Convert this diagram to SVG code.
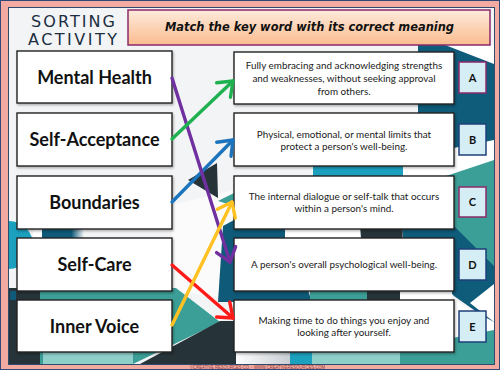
<svg xmlns="http://www.w3.org/2000/svg" width="500" height="370" viewBox="0 0 500 370">
<defs>
<style>
.term{fill:#fff;stroke:#222;stroke-width:1.4}
.defn{fill:#fff;stroke:#222;stroke-width:1.4}
.tt{font-family:Lato,"Open Sans","DejaVu Sans",sans-serif;font-weight:bold;font-size:18px;fill:#111;text-anchor:middle}
.dt{font-family:Lato,"Open Sans","DejaVu Sans",sans-serif;font-size:9.9px;fill:#1a1a1a;text-anchor:middle}
.lb{fill:#d5eef6;stroke-width:1.5}
.lt{font-family:Lato,"Open Sans","DejaVu Sans",sans-serif;font-weight:bold;font-size:11px;fill:#111;text-anchor:middle}
.ar{fill:none;stroke-width:3.4;stroke-linecap:round}
</style>
<clipPath id="panel"><rect x="9" y="8" width="485" height="356"/></clipPath>
<linearGradient id="tg" x1="0" y1="0" x2="0" y2="1">
<stop offset="0" stop-color="#fdeadb"/>
<stop offset="1" stop-color="#fbbc8f"/>
</linearGradient>
<linearGradient id="fadeB" x1="0" y1="0" x2="1" y2="0">
<stop offset="0" stop-color="#0e5a78"/>
<stop offset="0.7" stop-color="#0e5a78"/>
<stop offset="1" stop-color="#f2f4f6"/>
</linearGradient>
<linearGradient id="fadeW" x1="0" y1="0" x2="1" y2="0">
<stop offset="0" stop-color="#ffffff"/>
<stop offset="1" stop-color="#c9ced3"/>
</linearGradient>
<filter id="sh" x="-5%" y="-5%" width="110%" height="120%">
<feDropShadow dx="1" dy="1.5" stdDeviation="0.8" flood-color="#000" flood-opacity="0.3"/>
</filter>
<marker id="mP" markerUnits="userSpaceOnUse" viewBox="-16 -12 20 24" markerWidth="20" markerHeight="24" refX="0" refY="0" orient="auto" overflow="visible"><path d="M-13,-10 L0,0 L-13,10" fill="none" stroke="#7030a0" stroke-width="3.4" stroke-linecap="round" stroke-linejoin="round"/></marker>
<marker id="mG" markerUnits="userSpaceOnUse" viewBox="-16 -12 20 24" markerWidth="20" markerHeight="24" refX="0" refY="0" orient="auto" overflow="visible"><path d="M-13,-10 L0,0 L-13,10" fill="none" stroke="#1fb14f" stroke-width="3.4" stroke-linecap="round" stroke-linejoin="round"/></marker>
<marker id="mB" markerUnits="userSpaceOnUse" viewBox="-16 -12 20 24" markerWidth="20" markerHeight="24" refX="0" refY="0" orient="auto" overflow="visible"><path d="M-13,-10 L0,0 L-13,10" fill="none" stroke="#1c74bc" stroke-width="3.4" stroke-linecap="round" stroke-linejoin="round"/></marker>
<marker id="mR" markerUnits="userSpaceOnUse" viewBox="-16 -12 20 24" markerWidth="20" markerHeight="24" refX="0" refY="0" orient="auto" overflow="visible"><path d="M-13,-10 L0,0 L-13,10" fill="none" stroke="#ff1a1a" stroke-width="3.4" stroke-linecap="round" stroke-linejoin="round"/></marker>
<marker id="mY" markerUnits="userSpaceOnUse" viewBox="-16 -12 20 24" markerWidth="20" markerHeight="24" refX="0" refY="0" orient="auto" overflow="visible"><path d="M-13,-10 L0,0 L-13,10" fill="none" stroke="#ffc222" stroke-width="3.4" stroke-linecap="round" stroke-linejoin="round"/></marker>
</defs>

<!-- frame -->
<rect x="0.5" y="0.5" width="499" height="369" fill="#f3aaa1" stroke="#2f4a7a" stroke-width="1"/>
<rect x="8.5" y="7.5" width="486" height="357" fill="#f2f4f6" stroke="#2f4a6a" stroke-width="1"/>

<!-- background shapes -->
<g id="background" clip-path="url(#panel)">
<polygon points="418,45 494,45 494,140 460,165 418,165" fill="#0f5b7a"/>
<polygon points="445,45 494,45 494,64" fill="#ffffff"/>
<polygon points="403,158 494,140 494,162 440,180 403,180" fill="#ffffff"/>
<polygon points="313,158 403,158 403,182 313,182" fill="#1ba0be"/>
<polygon points="440,178 494,160 494,272 440,272" fill="#3c9f97"/>
<polygon points="223,226 286,226 312,302 223,302" fill="#0e5a78"/>
<polygon points="285,226 360,226 360,242 285,242" fill="#ffffff"/>
<polygon points="360,226 403,226 400,305 367,305" fill="#26343a"/>
<polygon points="403,226 454,226 494,266 494,324 454,296 403,241" fill="#0f5b7a"/>
<polygon points="494,284 470,303 494,322" fill="#ffffff"/>
<polygon points="310,285 367,285 367,305 310,305" fill="#3c9f97"/>
<polygon points="400,285 452,285 452,305 400,305" fill="#ffffff"/>
<polygon points="454,300 494,322 494,332 454,345" fill="#ffffff"/>
<rect x="234" y="348" width="56" height="16" fill="url(#fadeW)"/>
<rect x="290" y="348" width="22" height="16" fill="#1ba0be"/>
<rect x="312" y="348" width="88" height="16" fill="#8fcfca"/>
<polygon points="400,348 494,330 494,364 400,364" fill="#3c9f97"/>
<polygon points="172,205 234,190 234,300 172,290" fill="#fbfbfc"/>
<polygon points="223,226 234,220 234,302 218,302" fill="#0e5a78"/>
<polygon points="188,180 217,163 218,198" fill="#26343a"/>
<polygon points="218,201 234,193 234,206" fill="#3c9f97"/>
<circle cx="9" cy="245" r="24" fill="#1ba0be"/>
<rect x="33" y="228" width="9" height="11" fill="#ffffff"/>
<rect x="42" y="228" width="42" height="11" fill="url(#fadeB)"/>
<polygon points="9,288 43,288 43,364 9,364" fill="#26343a"/>
<polygon points="40,288 176,288 220,322 133,364 40,364" fill="#3c9f97"/>
<polygon points="43,318 133,302 133,364 43,364" fill="#8fcfca"/>
<polygon points="140,364 220,321 236,321 236,364" fill="#26343a"/>
<rect x="10" y="291" width="6" height="9" fill="#0e5a78"/>
</g>

<!-- header -->
<g id="header">
<text x="31" y="27" font-family="'DejaVu Sans',sans-serif" font-size="16" fill="#1c2e40" textLength="84" lengthAdjust="spacing">SORTING</text>
<text x="28" y="45" font-family="'DejaVu Sans',sans-serif" font-size="16" fill="#1c2e40" textLength="89" lengthAdjust="spacing">ACTIVITY</text>
</g>
<g id="title">
<rect x="128" y="10" width="362" height="35" fill="url(#tg)" stroke="#8b2a6b" stroke-width="1.5"/>
<text x="165" y="31" font-family="'DejaVu Sans',sans-serif" font-size="12.5" font-style="italic" font-weight="bold" fill="#111" textLength="289" lengthAdjust="spacingAndGlyphs">Match the key word with its correct meaning</text>
</g>

<!-- terms -->
<g id="term-mental-health"><rect class="term" x="17" y="51" width="155" height="52" filter="url(#sh)"/><text class="tt" x="94.5" y="83.5">Mental Health</text></g>
<g id="term-self-acceptance"><rect class="term" x="17" y="113" width="155" height="53" filter="url(#sh)"/><text class="tt" x="94.5" y="146">Self-Acceptance</text></g>
<g id="term-boundaries"><rect class="term" x="17" y="176" width="155" height="53" filter="url(#sh)"/><text class="tt" x="94.5" y="208.5">Boundaries</text></g>
<g id="term-self-care"><rect class="term" x="17" y="238" width="155" height="53" filter="url(#sh)"/><text class="tt" x="94.5" y="271">Self-Care</text></g>
<g id="term-inner-voice"><rect class="term" x="17" y="300" width="155" height="52" filter="url(#sh)"/><text class="tt" x="94.5" y="332.5">Inner Voice</text></g>

<!-- definitions -->
<g id="def-a"><rect class="defn" x="234" y="52" width="220" height="52" filter="url(#sh)"/>
<text class="dt" x="344" y="68.5">Fully embracing and acknowledging strengths</text>
<text class="dt" x="344" y="81.5">and weaknesses, without seeking approval</text>
<text class="dt" x="344" y="94.5">from others.</text></g>
<g id="def-b"><rect class="defn" x="234" y="113" width="220" height="53" filter="url(#sh)"/>
<text class="dt" x="344" y="137.5">Physical, emotional, or mental limits that</text>
<text class="dt" x="344" y="150">protect a person's well-being.</text></g>
<g id="def-c"><rect class="defn" x="234" y="176" width="220" height="53" filter="url(#sh)"/>
<text class="dt" x="344" y="200">The internal dialogue or self-talk that occurs</text>
<text class="dt" x="344" y="212">within a person's mind.</text></g>
<g id="def-d"><rect class="defn" x="234" y="238" width="220" height="53" filter="url(#sh)"/>
<text class="dt" x="344" y="268">A person's overall psychological well-being.</text></g>
<g id="def-e"><rect class="defn" x="234" y="300" width="220" height="52" filter="url(#sh)"/>
<text class="dt" x="344" y="324">Making time to do things you enjoy and</text>
<text class="dt" x="344" y="336">looking after yourself.</text></g>

<!-- letters -->
<g id="letter-a"><rect class="lb" x="459" y="62" width="27" height="31" stroke="#8b2a6b"/><text class="lt" x="472.5" y="81.5">A</text></g>
<g id="letter-b"><rect class="lb" x="459" y="124" width="27" height="31" stroke="#1f3f7a"/><text class="lt" x="472.5" y="143.5">B</text></g>
<g id="letter-c"><rect class="lb" x="459" y="187" width="27" height="30" stroke="#8b2a6b"/><text class="lt" x="472.5" y="206">C</text></g>
<g id="letter-d"><rect class="lb" x="459" y="249" width="27" height="31" stroke="#1f3f7a"/><text class="lt" x="472.5" y="268.5">D</text></g>
<g id="letter-e"><rect class="lb" x="459" y="311" width="27" height="31" stroke="#1f3f7a"/><text class="lt" x="472.5" y="330.5">E</text></g>

<!-- connectors -->
<g id="connectors">
<line class="ar" x1="172" y1="202" x2="233" y2="140" stroke="#1c74bc" marker-end="url(#mB)"/>
<line class="ar" x1="172" y1="78" x2="230" y2="262" stroke="#7030a0" marker-end="url(#mP)"/>
<line class="ar" x1="172" y1="139" x2="233" y2="81" stroke="#1fb14f" marker-end="url(#mG)"/>
<line class="ar" x1="172" y1="265" x2="233" y2="318" stroke="#ff1a1a" marker-end="url(#mR)"/>
<line class="ar" x1="172" y1="325" x2="232" y2="202" stroke="#ffc222" marker-end="url(#mY)"/>
</g>

<text x="190" y="368.5" font-family="'Liberation Sans',sans-serif" font-size="4.5" fill="#8b3a3a" textLength="135" lengthAdjust="spacingAndGlyphs">©CREATIVE RESOURCES CO. - WWW.CREATIVERESOURCES.COM</text>
</svg>
